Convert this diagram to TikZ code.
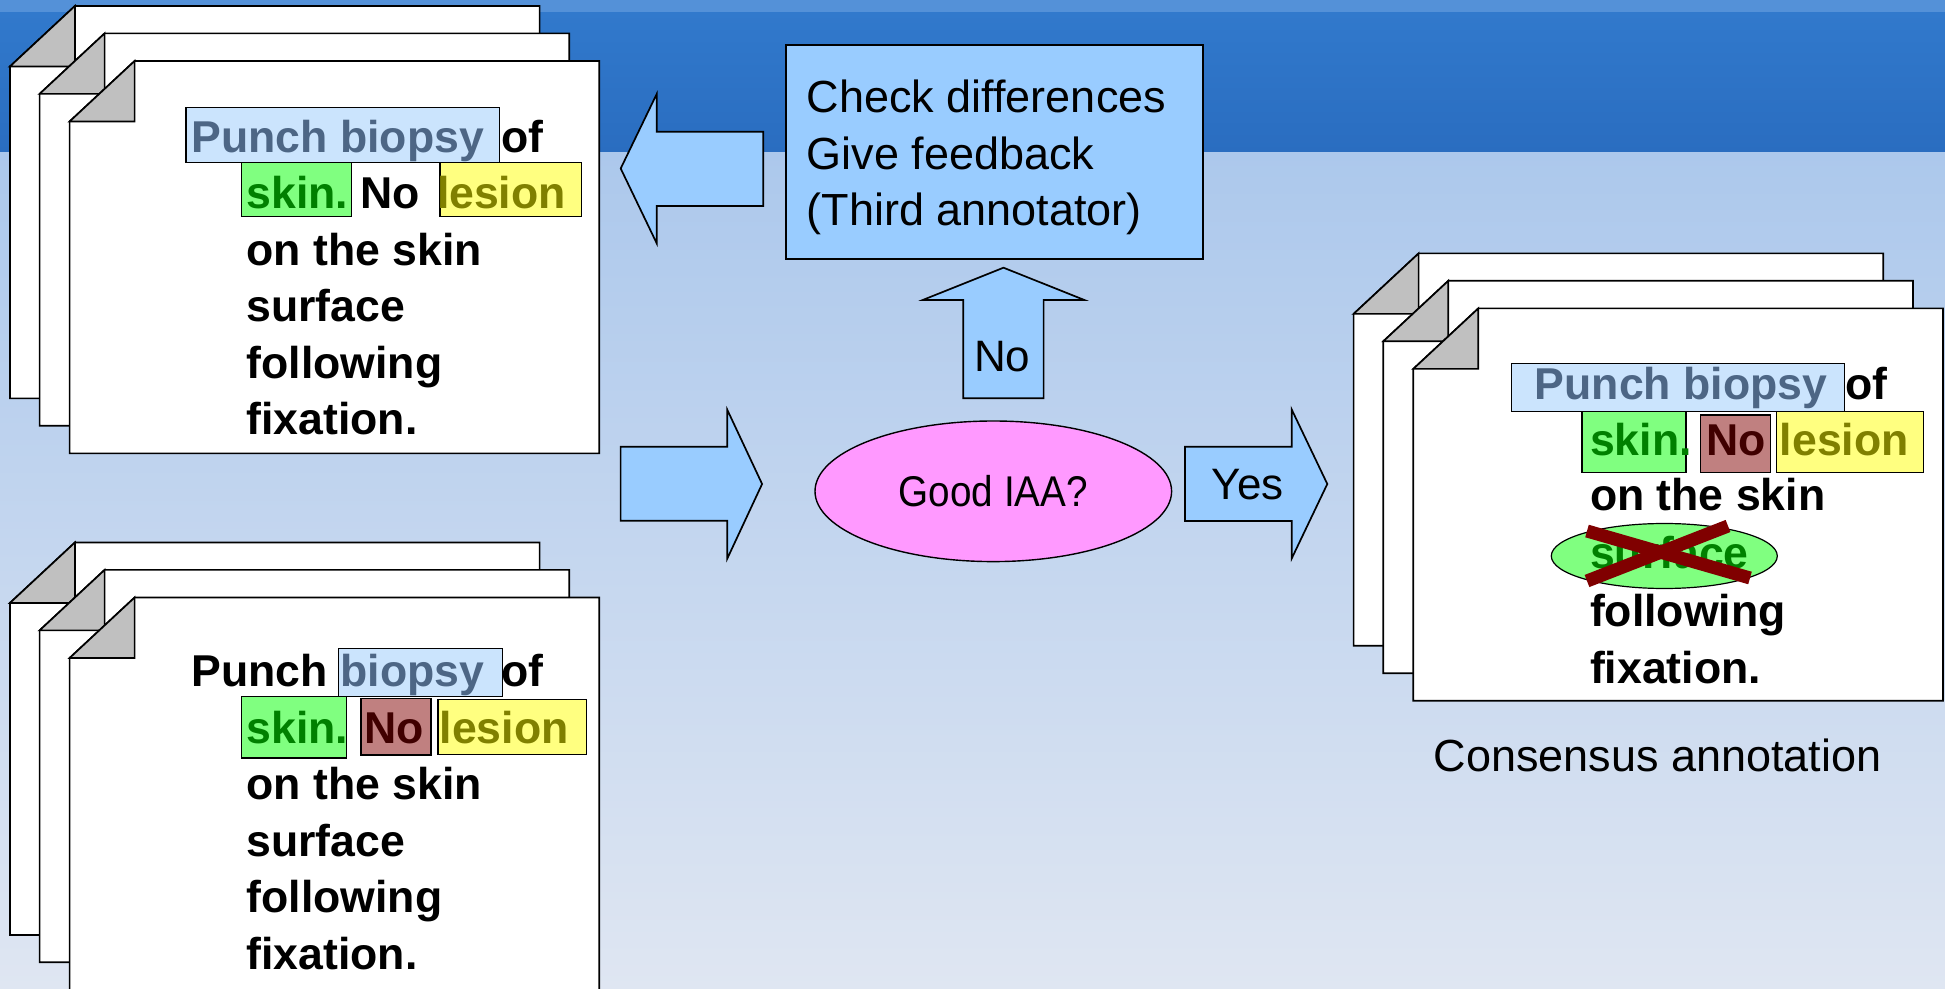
\documentclass[tikz,border=0pt]{standalone}
\usepackage{fontspec}
\usepackage{graphicx}
\setmainfont{Liberation Sans}
\usetikzlibrary{shapes.geometric}

\definecolor{bandlight}{HTML}{5491D8}
\definecolor{bandtop}{HTML}{3179CC}
\definecolor{bandbot}{HTML}{2A6DC0}
\definecolor{skytop}{HTML}{ACC8EC}
\definecolor{skybot}{HTML}{DFE6F2}
\definecolor{arrowblue}{HTML}{99CCFF}
\definecolor{ovalpink}{HTML}{FF99FF}
\definecolor{foldgray}{HTML}{C0C0C0}
\definecolor{hlblue}{HTML}{CBE4FD}
\definecolor{hlbluetext}{HTML}{4D6685}
\definecolor{hlgreen}{HTML}{80FF80}
\definecolor{greentext}{HTML}{008000}
\definecolor{hlyellow}{HTML}{FFFF80}
\definecolor{olivetext}{HTML}{808000}
\definecolor{hlred}{HTML}{C08080}
\definecolor{redtext}{HTML}{400000}
\definecolor{crossred}{HTML}{800000}

\newcommand\docfont{\bfseries\fontsize{22.3}{26}\selectfont}
\newcommand\labelfont{\fontsize{22.5}{27}\selectfont}

\tikzset{
  docsheet/.style={fill=white, draw=black, line width=0.85pt, line join=miter},
  dogear/.style={fill=foldgray, draw=black, line width=0.85pt, line join=miter},
  hlbox/.style={draw=black, line width=0.7pt},
  word/.style={anchor=base west, inner sep=0pt, outer sep=0pt, font=\docfont},
  plain/.style={anchor=base west, inner sep=0pt, outer sep=0pt, font=\labelfont},
  blockarrow/.style={fill=arrowblue, draw=black, line width=0.85pt, line join=miter},
  strike/.style={draw=crossred, line width=6.5pt},
  docpage/.pic={
    \filldraw[docsheet] (0,60.5) -- (65,0) -- (529.7,0) -- (529.7,392.4) -- (0,392.4) -- cycle;
    \filldraw[dogear] (0,60.5) -- (65,0) -- (65,60.5) -- cycle;
  },
  docstack/.pic={
    \pic at (0,0) {docpage};
    \pic at (29.7,27.4) {docpage};
    \pic at (59.7,55) {docpage};
  }
}

\begin{document}
\begin{tikzpicture}[x=0.5pt,y=-0.5pt]
\useasboundingbox (0,0) rectangle (1945,989);

% slide background
\fill[skytop] (0,0) rectangle (1945,989);
\shade[top color=skytop, bottom color=skybot] (0,152) rectangle (1945,989);
\shade[top color=bandtop, bottom color=bandbot] (0,12) rectangle (1945,152);
\fill[bandlight] (0,0) rectangle (1945,12);

% ---------- first annotator ----------
\pic at (9.9,6) {docstack};
\draw[hlbox, fill=hlblue]   (185.8,107.3) rectangle (499.4,162.3);
\draw[hlbox, fill=hlgreen]  (241.2,162.3) rectangle (351.5,216.8);
\draw[hlbox, fill=hlyellow] (439.8,162.3) rectangle (581.5,216.8);
\node[word, text=hlbluetext] (a-punch) at (191.5,152.5) {Punch biopsy};
\node[word] (a-of) at (501,152.5) {of};
\node[word, text=greentext] (a-skin) at (246.6,209) {skin.};
\node[word] (a-no) at (360.5,209) {No};
\node[word, text=olivetext] (a-lesion) at (437,209) {lesion};
\node[word] (a-l3) at (246.5,265.5) {on the skin};
\node[word] (a-l4) at (246.5,322) {surface};
\node[word] (a-l5) at (246.5,378.5) {following};
\node[word] (a-l6) at (246.5,435) {fixation.};

% ---------- second annotator ----------
\pic at (9.9,542.5) {docstack};
\draw[hlbox, fill=hlblue]   (338.5,648.3) rectangle (502.2,696.7);
\draw[hlbox, fill=hlgreen]  (241.2,696.5) rectangle (346.4,758);
\draw[hlbox, fill=hlred]    (361,698.5) rectangle (431,755);
\draw[hlbox, fill=hlyellow] (438.1,699.3) rectangle (586.4,754.3);
\node[word] (b-punch) at (191.5,686.7) {Punch};
\node[word, text=hlbluetext] (b-biopsy) at (340.5,686.7) {biopsy};
\node[word] (b-of) at (501.4,686.7) {of};
\node[word, text=greentext] (b-skin) at (246.5,743.3) {skin.};
\node[word, text=redtext] (b-no) at (364.6,743.3) {No};
\node[word, text=olivetext] (b-lesion) at (439.7,743.3) {lesion};
\node[word] (b-l3) at (246.5,799.3) {on the skin};
\node[word] (b-l4) at (246.5,856) {surface};
\node[word] (b-l5) at (246.5,912.7) {following};
\node[word] (b-l6) at (246.5,969.3) {fixation.};

% ---------- flow in the middle ----------
\draw[blockarrow] (620.6,446.7) -- (727.3,446.7) -- (727.3,409.8) -- (762.1,484)
  -- (727.3,558.6) -- (727.3,520.7) -- (620.6,520.7) -- cycle;
\node[ellipse, draw=black, fill=ovalpink, line width=0.7pt, minimum width=178.3pt,
  minimum height=70.3pt, inner sep=0pt, font=\fontsize{21.5}{25}\selectfont]
  (iaa) at (993.3,491.3) {\raisebox{-0.6pt}{\scalebox{0.9}[1]{Good IAA?}}};

\draw[blockarrow] (1003.5,267.7) -- (1084.4,300) -- (1043.6,300) -- (1043.6,398.3)
  -- (963.3,398.3) -- (963.3,300) -- (922.7,300) -- cycle;
\node[plain, font=\fontsize{22}{26}\selectfont] (no) at (974,371.7) {No};

\node[draw=black, fill=arrowblue, line width=0.9pt, minimum width=208.6pt,
  minimum height=107.25pt, inner sep=0pt] (check) at (994.4,152.05) {};
\node[plain] (check1) at (806.7,113) {Check differences};
\node[plain] (check2) at (806.7,169.2) {Give feedback};
\node[plain] (check3) at (806.7,225.7) {(Third annotator)};

\draw[blockarrow] (620.7,168.5) -- (656.7,94) -- (656.7,131.7) -- (763.3,131.7)
  -- (763.3,206) -- (656.7,206) -- (656.7,243.3) -- cycle;

\draw[blockarrow] (1185,446.7) -- (1291.7,446.7) -- (1291.7,409.5) -- (1327.3,484)
  -- (1291.7,558.5) -- (1291.7,521) -- (1185,521) -- cycle;
\node[plain, font=\fontsize{22}{26}\selectfont] (yes) at (1211.7,500) {Yes};

% ---------- consensus ----------
\pic at (1353.6,253.4) {docstack};
\draw[hlbox, fill=hlblue]   (1511.7,363.3) rectangle (1844.6,411.7);
\draw[hlbox, fill=hlgreen]  (1581.9,411.7) rectangle (1686,472.7);
\draw[hlbox, fill=hlred]    (1700.7,415) rectangle (1770.2,472.3);
\draw[hlbox, fill=hlyellow] (1776.3,411.7) rectangle (1923.7,472.3);
\node[word, text=hlbluetext] (c-punch) at (1534.8,399.3) {Punch biopsy};
\node[word] (c-of) at (1845.4,399.3) {of};
\node[word, text=greentext] (c-skin) at (1590,455.7) {skin.};
\node[word, text=redtext] (c-no) at (1706.5,455.7) {No};
\node[word, text=olivetext] (c-lesion) at (1779.8,455.7) {lesion};
\node[word] (c-l3) at (1590,510.7) {on the skin};
\node[ellipse, draw=black, fill=hlgreen, line width=0.6pt, minimum width=113pt,
  minimum height=32.5pt, inner sep=0pt] (c-oval) at (1664.3,556) {};
\node[word, text=greentext] (c-l4) at (1590,568.3) {surface};
\draw[strike] (1587,531) -- (1750,578);
\draw[strike] (1728,526) -- (1587,581);
\node[word] (c-l5) at (1590,626.7) {following};
\node[word] (c-l6) at (1590,683.3) {fixation.};

\node[plain] (consensus) at (1433.7,771.7) {Consensus annotation};
\end{tikzpicture}
\end{document}
